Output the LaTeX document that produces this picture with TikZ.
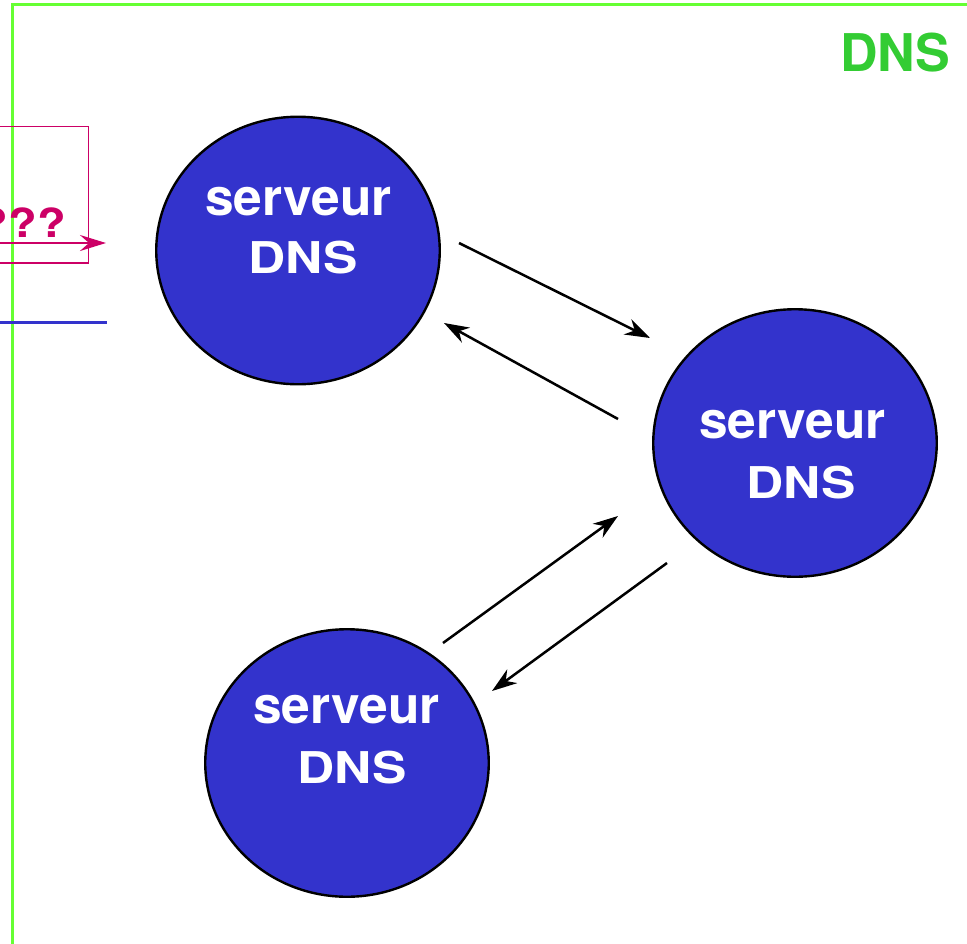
\documentclass[tikz,border=0pt]{standalone}
\usepackage{graphicx}
\usepackage{fontspec}
\setmainfont{TeX Gyre Heros}
\usetikzlibrary{arrows.meta,shapes.geometric}

\definecolor{srvblue}{RGB}{51,51,204}
\definecolor{framegreen}{RGB}{102,255,51}
\definecolor{titlegreen}{RGB}{51,204,51}
\definecolor{querypink}{RGB}{204,0,102}

\begin{document}
\begin{tikzpicture}[x=1pt,y=-1pt,
  server/.style={ellipse, draw=black, line width=2.4pt, fill=srvblue,
    minimum width=283.5pt, minimum height=267.5pt, inner sep=0pt},
  srvtext/.style={text=white, font=\fontsize{51.5}{60}\selectfont\bfseries,
    anchor=base, inner sep=0pt},
  msg/.style={draw=black, line width=2.5pt,
    -{Stealth[length=25pt,width=17pt,inset=8pt]}},
  query/.style={draw=querypink, line width=2.5pt,
    -{Stealth[length=26pt,width=16pt,inset=9pt]}},
]
\useasboundingbox (0,0) rectangle (967,943);
\clip (0,0) rectangle (967,943);

% zone frame and its title
\draw[framegreen, line width=2.7pt] (12.3,960) |- (990,4.3);
\node[anchor=base east, inner sep=0pt, text=titlegreen,
  font=\fontsize{52}{60}\selectfont\bfseries] (title) at (950,71) {DNS};

% incoming query box, partly outside the frame
\draw[querypink, line width=1.6pt] (-20,126.3) rectangle (88.3,262.7);
\node[anchor=base east, inner sep=0pt, text=querypink,
  font=\fontsize{47}{56}\selectfont\bfseries] (ask) at (66,237)
  {\scalebox{1}[0.85]{???}};
\coordinate (qin) at (-20,243);
\coordinate (qout) at (106,243);
\draw[query] (qin) -- (qout);

% blue link
\coordinate (lin) at (-20,322.7);
\coordinate (lout) at (107,322.7);
\draw[srvblue, line width=2.5pt] (lin) -- (lout);

% servers
\node[server] (s1) at (298,250.5) {};
\node[server] (s2) at (795,443) {};
\node[server] (s3) at (347,763) {};

\node[srvtext] (s1a) at (298.5,215) {serveur};
\node[srvtext] (s1b) at (303,273) {\scalebox{1}[0.85]{DNS}};
\node[srvtext] (s2a) at (792.5,438) {serveur};
\node[srvtext] (s2b) at (801,498) {\scalebox{1}[0.85]{DNS}};
\node[srvtext] (s3a) at (346.5,723) {serveur};
\node[srvtext] (s3b) at (352,783) {\scalebox{1}[0.85]{DNS}};

% exchanges between servers
\coordinate (a1s) at (459,243);
\coordinate (a1e) at (650,338);
\coordinate (a2s) at (618,419);
\coordinate (a2e) at (444,323);
\coordinate (a3s) at (443,643);
\coordinate (a3e) at (618,516);
\coordinate (a4s) at (667,563);
\coordinate (a4e) at (492,691);
\draw[msg] (a1s) -- (a1e);
\draw[msg] (a2s) -- (a2e);
\draw[msg] (a3s) -- (a3e);
\draw[msg] (a4s) -- (a4e);
\end{tikzpicture}
\end{document}
